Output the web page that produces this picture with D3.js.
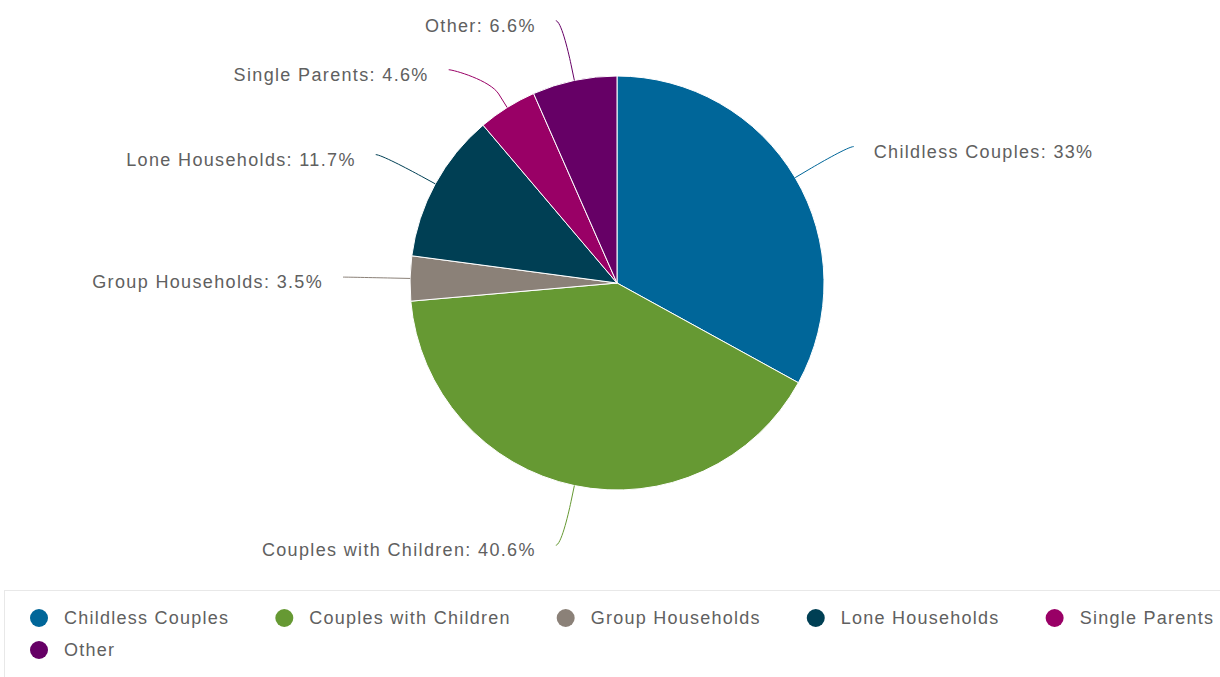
<!DOCTYPE html>
<html><head><meta charset="utf-8">
<script src="https://cdn.jsdelivr.net/npm/d3@7"></script>
<style>
html,body{margin:0;padding:0;background:#fff;}
svg{display:block;font-family:"Liberation Sans",Arial,sans-serif;}
</style></head>
<body>
<svg id="chart" width="1220" height="677"></svg>
<script>
const categories = ["Childless Couples","Couples with Children","Group Households","Lone Households","Single Parents","Other"];
const values = [33, 40.6, 3.5, 11.7, 4.6, 6.6];
const labelTexts = ["33%","40.6%","3.5%","11.7%","4.6%","6.6%"];
const colors = ["#006699","#669933","#8b8178","#003f54","#990066","#660066"];

const W = 1220, H = 677;
const cx = 617, cy = 283, R = 207;
const svg = d3.select("#chart");

const data = categories.map((c,i)=>({name:c, value:values[i], label:labelTexts[i], color:colors[i]}));
const pie = d3.pie().sort(null).value(d=>d.value);
const arcs = pie(data);
const arc = d3.arc().innerRadius(0).outerRadius(R);

const g = svg.append("g").attr("transform",`translate(${cx},${cy})`);
g.selectAll("path.slice").data(arcs).join("path")
  .attr("class","slice")
  .attr("d",arc)
  .attr("fill",d=>d.data.color)
  .attr("stroke","#fff").attr("stroke-width",1).attr("stroke-linejoin","round");

// label layout: y from angle, spaced apart per side, x on label circle
const labelR = 268, breakR = R + 16, minGap = 49;
const pt = (a, r) => [r*Math.sin(a), -r*Math.cos(a)];
const items = arcs.map(d=>{
  const a = (d.startAngle + d.endAngle)/2;
  return {d, a, right: Math.sin(a) >= 0, y: -labelR*Math.cos(a)};
});
[true,false].forEach(side=>{
  const s = items.filter(o=>o.right===side).sort((p,q)=>p.y-q.y);
  for (let i=1;i<s.length;i++) if (s[i].y < s[i-1].y + minGap) s[i].y = s[i-1].y + minGap;
});
items.forEach(o=>{
  const d = o.d, sgn = o.right ? 1 : -1;
  const ly = o.y;
  const lx = sgn*(Math.sqrt(Math.max(0, labelR*labelR - ly*ly)) + 6);
  const touch = pt(o.a, R);
  const brk = pt(o.a, breakR);
  const p = d3.path();
  p.moveTo(lx, ly);
  p.bezierCurveTo(lx - sgn*5, ly, 2*brk[0]-touch[0], 2*brk[1]-touch[1], brk[0], brk[1]);
  p.lineTo(touch[0], touch[1]);
  g.append("path").attr("d",p.toString()).attr("fill","none")
    .attr("stroke",d.data.color).attr("stroke-width",1);
  g.append("text")
    .attr("x", lx + sgn*20).attr("y", ly + 5)
    .attr("dominant-baseline","central")
    .attr("text-anchor", o.right ? "start" : "end")
    .attr("font-size",18).attr("letter-spacing","1.35px").attr("fill","#606060")
    .text(`${d.data.name}: ${d.data.label}`);
});

// legend
const lg = svg.append("g");
lg.append("rect").attr("x",4.5).attr("y",590.5).attr("width",1300).attr("height",200)
  .attr("fill","none").attr("stroke","#e8e8e8").attr("stroke-width",1);
let x = 30, y = 618;
const itemDist = 46, rowH = 32, maxX = 1215;
data.forEach(d=>{
  const it = lg.append("g");
  it.append("circle").attr("cx",9).attr("cy",0).attr("r",9).attr("fill",d.color);
  const t = it.append("text").attr("x",34).attr("y",0).attr("dominant-baseline","central")
    .attr("font-size",18).attr("letter-spacing","1.25px").attr("fill","#606060").text(d.name);
  const w = 34 + t.node().getComputedTextLength();
  if (x + w > maxX) { x = 30; y += rowH; }
  it.attr("transform",`translate(${x},${y})`);
  x += w + itemDist;
});
</script>
</body></html>
